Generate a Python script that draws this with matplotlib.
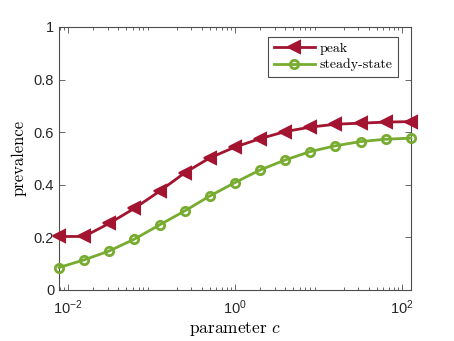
import numpy as np
import matplotlib
matplotlib.use("Agg")
import matplotlib.pyplot as plt
from matplotlib.ticker import LogLocator, NullFormatter

plt.rcParams["font.family"] = ["Liberation Sans", "DejaVu Sans"]
plt.rcParams["mathtext.fontset"] = "custom"
plt.rcParams["mathtext.rm"] = "Liberation Sans"
plt.rcParams["mathtext.it"] = "Liberation Sans:italic"

# ─── Data ────────────────────────────────────────────────────────────
c_exp = [-7, -6, -5, -4, -3, -2, -1, 0, 1, 2, 3, 4, 5, 6, 7]
c_values = [2.0 ** k for k in c_exp]
peak = [0.203, 0.203, 0.253, 0.310, 0.375, 0.445, 0.502, 0.543,
        0.575, 0.602, 0.619, 0.630, 0.634, 0.638, 0.640]
steady = [0.085, 0.114, 0.148, 0.193, 0.247, 0.300, 0.357, 0.408,
          0.456, 0.494, 0.526, 0.548, 0.564, 0.573, 0.577]
x_ticks = [1e-2, 1e0, 1e2]
x_ticklabels = [r"$10^{-2}$", r"$10^{0}$", r"$10^{2}$"]
y_ticks = [0, 0.2, 0.4, 0.6, 0.8, 1]
y_ticklabels = ["0", "0.2", "0.4", "0.6", "0.8", "1"]

RED = "#A2142F"
GREEN = "#77AC30"
AXIS_GREY = "#4d4d4d"

fig = plt.figure(figsize=(4.54, 3.41), dpi=100)
ax = fig.add_axes([0.130, 0.150, 0.775, 0.771])

ax.plot(c_values, peak, "-<", color=RED, linewidth=2.0, markersize=8,
        markerfacecolor=RED, markeredgecolor=RED, markeredgewidth=1.5,
        label="peak", clip_on=False, zorder=3)
ax.plot(c_values, steady, "-o", color=GREEN, linewidth=2.0, markersize=6,
        markerfacecolor="none", markeredgecolor=GREEN, markeredgewidth=2.0,
        label="steady-state", clip_on=False, zorder=3)

ax.set_xscale("log")
ax.set_xlim(c_values[0], c_values[-1])
ax.set_ylim(0, 1)
ax.set_xticks(x_ticks)
ax.set_xticklabels(x_ticklabels)
ax.xaxis.set_minor_locator(LogLocator(base=10, subs=np.arange(2, 10), numticks=20))
ax.xaxis.set_minor_formatter(NullFormatter())
ax.set_yticks(y_ticks)
ax.set_yticklabels(y_ticklabels)

for sp in ax.spines.values():
    sp.set_color(AXIS_GREY)
    sp.set_linewidth(0.8)
ax.tick_params(which="both", direction="in", top=True, right=True,
               color=AXIS_GREY, labelcolor="#262626", labelsize=10.5)
ax.tick_params(which="major", length=4, width=0.6)
ax.tick_params(which="minor", length=2, width=0.6)
ax.tick_params(axis="x", pad=6)

ax.set_xlabel(r"parameter $c$", fontsize=12.5, family="cmr10",
              math_fontfamily="cm", labelpad=2)
ax.set_ylabel("prevalence", fontsize=12, family="cmr10", labelpad=5)

leg = ax.legend(loc="upper right", bbox_to_anchor=(0.963, 0.962),
                prop={"family": "cmr10", "size": 10}, fancybox=False,
                framealpha=1, edgecolor=AXIS_GREY, handlelength=3.0,
                borderpad=0.4, labelspacing=0.25, handletextpad=0.3,
                borderaxespad=0)
leg.get_frame().set_linewidth(0.8)

fig.savefig("out.png", dpi=100)
